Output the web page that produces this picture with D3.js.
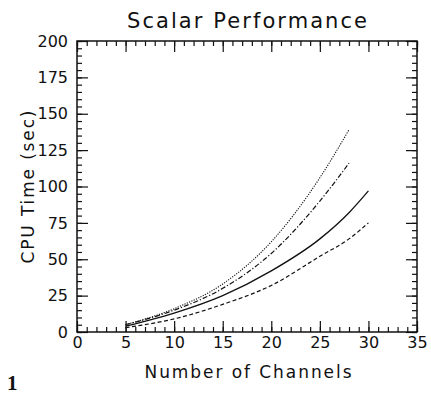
<!DOCTYPE html>
<html>
<head>
<meta charset="utf-8">
<script src="https://cdn.jsdelivr.net/npm/d3@7"></script>
<style>
  body { margin: 0; background: #fff; }
  svg { display: block; }
</style>
</head>
<body>
<script>
let w = 431;
let h = 395;

// channels on the x axis
let channels = [5, 10, 15, 20, 25, 28, 30];

// CPU time (sec), one array per line style
let solidSeries   = [4, 13, 25, 42, 64, 82, 97];
let dashedSeries  = [3, 9, 19, 32, 52, 64, 75];
let dashDotSeries = [5, 15, 30, 54, 90, 116, null];
let dottedSeries  = [5, 16, 33, 62, 106, 139, null];

let xMajor = [0, 5, 10, 15, 20, 25, 30, 35];
let yMajor = [0, 25, 50, 75, 100, 125, 150, 175, 200];

let series = [
    {values: dottedSeries, dash: "1.2,1.3", width: 1.1},
    {values: dashDotSeries, dash: "5,2,1.2,2", width: 1.2},
    {values: solidSeries, dash: null, width: 1.3},
    {values: dashedSeries, dash: "4,2.5", width: 1.2},
]

let sans = "DejaVu Sans, sans-serif"

let xScale = d3.scaleLinear()
    .domain([0, 35])
    .range([77, 417])

let yScale = d3.scaleLinear()
    .domain([0, 200])
    .range([332, 41])

let svg = d3.select("body")
    .append("svg")
    .attr("width", w)
    .attr("height", h)

// frame
svg.append("rect")
    .attr("x", xScale(0))
    .attr("y", yScale(200))
    .attr("width", xScale(35) - xScale(0))
    .attr("height", yScale(0) - yScale(200))
    .attr("fill", "none")
    .attr("stroke", "#111")
    .attr("stroke-width", 1.5)

// ticks, all pointing inward
let axes = [
    {g: d3.axisBottom(xScale), pos: `translate(0,${yScale(0)})`, minor: d3.range(0, 36), major: xMajor, labels: true, pad: 5},
    {g: d3.axisTop(xScale), pos: `translate(0,${yScale(200)})`, minor: d3.range(0, 36), major: xMajor, labels: false, pad: 5},
    {g: d3.axisLeft(yScale), pos: `translate(${xScale(0)},0)`, minor: d3.range(0, 201, 5), major: yMajor, labels: true, pad: 9},
    {g: d3.axisRight(yScale), pos: `translate(${xScale(35)},0)`, minor: d3.range(0, 201, 5), major: yMajor, labels: false, pad: 5},
]

axes.forEach(a => {
    svg.append("g")
        .attr("transform", a.pos)
        .call(a.g.tickValues(a.minor).tickSize(-5).tickFormat(""))
        .call(g => g.select(".domain").remove())

    let major = svg.append("g")
        .attr("transform", a.pos)
        .call(a.g.tickValues(a.major).tickSize(-11).tickPadding(a.pad)
            .tickFormat(a.labels ? d3.format("d") : ""))
    major.select(".domain").remove()
    major.selectAll("text")
        .style("font-family", sans)
        .style("font-size", "16px")
        .attr("fill", "#111")
})

svg.selectAll(".tick line")
    .attr("stroke", "#111")
    .attr("stroke-width", 1.2)

// the curves
let line = d3.line()
    .defined(d => d[1] != null)
    .x(d => xScale(d[0]))
    .y(d => yScale(d[1]))
    .curve(d3.curveMonotoneX)

svg.selectAll("path.curve")
    .data(series)
    .enter()
    .append("path")
    .attr("class", "curve")
    .attr("d", s => line(channels.map((c, i) => [c, s.values[i]])))
    .attr("fill", "none")
    .attr("stroke", "#111")
    .attr("stroke-width", s => s.width)
    .attr("stroke-dasharray", s => s.dash)

// titles
svg.append("text")
    .attr("x", 247)
    .attr("y", 28)
    .attr("text-anchor", "middle")
    .style("font-family", sans)
    .style("font-size", "21px")
    .attr("textLength", 240)
    .attr("lengthAdjust", "spacing")
    .attr("fill", "#111")
    .text("Scalar Performance")

svg.append("text")
    .attr("x", 248)
    .attr("y", 378)
    .attr("text-anchor", "middle")
    .style("font-family", sans)
    .style("font-size", "17px")
    .attr("textLength", 207)
    .attr("lengthAdjust", "spacing")
    .attr("fill", "#111")
    .text("Number of Channels")

svg.append("text")
    .attr("transform", "translate(34,187) rotate(-90)")
    .attr("text-anchor", "middle")
    .style("font-family", sans)
    .style("font-size", "17px")
    .attr("textLength", 153)
    .attr("lengthAdjust", "spacing")
    .attr("fill", "#111")
    .text("CPU Time (sec)")

svg.append("text")
    .attr("x", 7)
    .attr("y", 390)
    .style("font-family", "Liberation Serif, serif")
    .style("font-weight", "bold")
    .style("font-size", "21px")
    .attr("fill", "#111")
    .text("1")
</script>
</body>
</html>
